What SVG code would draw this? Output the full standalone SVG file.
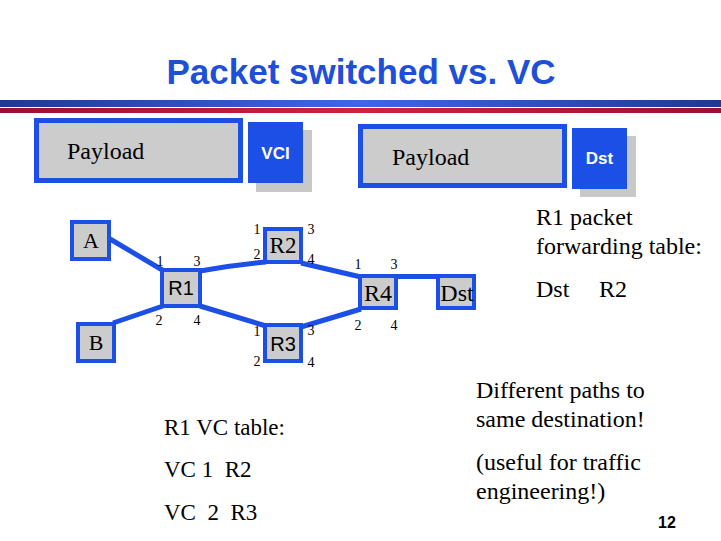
<svg xmlns="http://www.w3.org/2000/svg" width="721" height="541" viewBox="0 0 721 541">
<style>
.ser{font-family:"Liberation Serif","Times New Roman",serif;fill:#000}
.san{font-family:"Liberation Sans",Arial,sans-serif;fill:#000}
.big{font-size:24px}
.port{font-family:"Liberation Serif","Times New Roman",serif;font-size:14px;fill:#000;text-anchor:middle}
.node{fill:#cccccc;stroke:#1b4fe6;stroke-width:4}
.pkt{fill:#cccccc;stroke:#1b4fe6;stroke-width:5}
.hdr{fill:#1b4fe6}
.shadow{fill:#c8c8c8}
.hdrtxt{font-family:"Liberation Sans",Arial,sans-serif;font-weight:bold;font-size:17px;fill:#fff;text-anchor:middle}
.lbl{text-anchor:middle}
.link{stroke:#1b4fe6;stroke-width:5;fill:none}
</style>
<defs>
<linearGradient id="gb" x1="0" x2="1" y1="0" y2="0">
<stop offset="0" stop-color="#1e3a8c"/><stop offset="0.5" stop-color="#3a68e6"/><stop offset="1" stop-color="#1e3a8c"/>
</linearGradient>
<linearGradient id="gr" x1="0" x2="1" y1="0" y2="0">
<stop offset="0" stop-color="#9a1030"/><stop offset="0.5" stop-color="#d42040"/><stop offset="1" stop-color="#9a1030"/>
</linearGradient>
</defs>
<rect width="721" height="541" fill="#fff"/>
<text x="361" y="84" text-anchor="middle" style="font-family:'Liberation Sans',Arial,sans-serif;font-weight:bold;font-size:35px;fill:#1d4fd8">Packet switched vs. VC</text>
<rect x="0" y="100" width="721" height="7" fill="url(#gb)"/>
<rect x="0" y="108" width="721" height="5" fill="url(#gr)"/>

<g id="packet1">
<rect class="pkt" x="36.5" y="120.5" width="204" height="60"/>
<text class="ser big" x="67" y="159">Payload</text>
<rect class="shadow" x="256" y="130" width="56" height="62"/>
<rect class="hdr" x="248" y="122" width="55" height="61"/>
<text class="hdrtxt" x="275.5" y="159">VCI</text>
</g>
<g id="packet2">
<rect class="pkt" x="360.5" y="126.5" width="204" height="59"/>
<text class="ser big" x="392" y="165">Payload</text>
<rect class="shadow" x="580" y="136" width="56" height="61"/>
<rect class="hdr" x="572" y="128" width="55" height="61"/>
<text class="hdrtxt" x="599.5" y="164">Dst</text>
</g>

<g id="connectors">
<line class="link" x1="110" y1="239" x2="164" y2="271"/>
<line class="link" x1="113" y1="323" x2="163" y2="306"/>
<path class="link" d="M200,271 Q232,265 266,262"/>
<line class="link" x1="200" y1="306" x2="266" y2="326"/>
<line class="link" x1="301" y1="263" x2="361" y2="277"/>
<line class="link" x1="301" y1="327" x2="361" y2="309"/>
<line class="link" x1="396" y1="276.5" x2="439" y2="276.5"/>
</g>

<g id="A"><rect class="node" x="72" y="222" width="37" height="37"/><text class="ser lbl" x="91" y="248" font-size="22">A</text></g>
<g id="B"><rect class="node" x="78" y="324" width="36" height="37"/><text class="ser lbl" x="96" y="350" font-size="22">B</text></g>
<g id="R1"><rect class="node" x="162" y="270" width="38" height="36"/><text class="san lbl" x="181" y="295" font-size="20">R1</text>
<text class="port" x="160" y="266">1</text><text class="port" x="197" y="266">3</text><text class="port" x="159" y="325">2</text><text class="port" x="197" y="325">4</text></g>
<g id="R2"><rect class="node" x="265" y="229" width="36" height="33"/><text class="ser lbl" x="283" y="253" font-size="23">R2</text>
<text class="port" x="257" y="234">1</text><text class="port" x="311" y="234">3</text><text class="port" x="257" y="259">2</text><text class="port" x="311" y="264">4</text></g>
<g id="R3"><rect class="node" x="265" y="325" width="36" height="36"/><text class="san lbl" x="283" y="351" font-size="20">R3</text>
<text class="port" x="257" y="336">1</text><text class="port" x="311" y="335">3</text><text class="port" x="257" y="366">2</text><text class="port" x="311" y="367">4</text></g>
<g id="R4"><rect class="node" x="360" y="276" width="36" height="32"/><text class="ser lbl" x="378" y="301" font-size="24">R4</text>
<text class="port" x="358" y="269">1</text><text class="port" x="394" y="269">3</text><text class="port" x="358" y="330">2</text><text class="port" x="394" y="330">4</text></g>
<g id="Dst"><rect class="node" x="438" y="276" width="36" height="32"/><text class="ser lbl" x="457" y="301" font-size="24">Dst</text></g>

<g id="texts">
<text class="ser big" x="536" y="225">R1 packet</text>
<text class="ser big" x="536" y="254">forwarding table:</text>
<text class="ser big" x="536" y="297">Dst</text>
<text class="ser big" x="599" y="297">R2</text>
<text class="ser" x="164" y="435" font-size="23">R1 VC table:</text>
<text class="ser" x="164" y="477" font-size="23" xml:space="preserve">VC 1  R2</text>
<text class="ser" x="164" y="520" font-size="23" xml:space="preserve">VC  2  R3</text>
<text class="ser big" x="476" y="398">Different paths to</text>
<text class="ser big" x="476" y="427">same destination!</text>
<text class="ser big" x="476" y="470">(useful for traffic</text>
<text class="ser big" x="476" y="499">engineering!)</text>
<text class="san" x="667" y="528" font-size="16" font-weight="bold" text-anchor="middle">12</text>
</g>
</svg>
